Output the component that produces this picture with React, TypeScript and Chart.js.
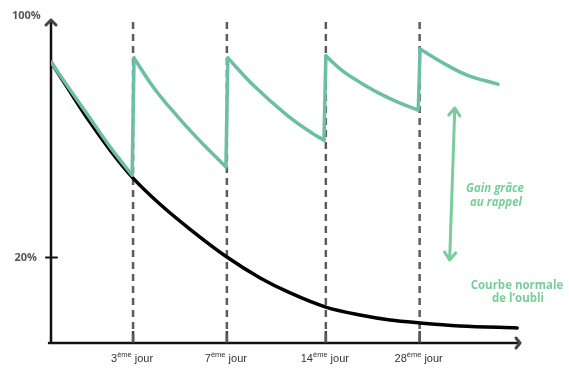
import { useEffect, useRef } from 'react';
import { Chart, registerables } from 'chart.js';

Chart.register(...registerables);

// time axis: 0..100 (schematic), retention axis in %
const reviewDays = ['3', '7', '14', '28'];
const reviewPositions = [17.5, 37.5, 58.6, 78.6];
const yTickValues = [20, 100];
const yTickLabels = ['20%', '100%'];

const normalCurve: number[][] = [
  [0, 86.4], [4.1, 76.2], [8.3, 66.0], [12.6, 56.5], [17.5, 47.0], [23.2, 38.2],
  [29.6, 29.7], [37.5, 20.2], [44.6, 13.1], [51.0, 8.0], [58.6, 3.2], [65.9, 0.5],
  [72.3, -1.2], [78.7, -2.2], [87.2, -3.2], [99.4, -3.9],
];

const recall0: number[][] = [[0, 86.4], [4.1, 76.9], [8.3, 67.4], [12.6, 57.6], [17.3, 48.0]];
const recall3: number[][] = [[17.7, 87.8], [21.8, 77.9], [25.4, 70.8], [29.0, 64.3], [32.8, 57.9], [37.3, 50.8]];
const recall7: number[][] = [[37.7, 87.8], [43.1, 78.6], [50.3, 68.4], [55.9, 62.0], [58.2, 59.9]];
const recall14: number[][] = [[58.6, 88.5], [62.3, 83.2], [65.9, 79.5], [69.5, 76.2], [73.8, 72.9], [78.3, 70.1]];
const recall28: number[][] = [[78.7, 90.8], [83.6, 86.1], [88.7, 82.0], [95.3, 78.9]];

const gainArrow = { xTop: 86.1, yTop: 70.8, xBottom: 85.0, yBottom: 19.2 };

const Y_MIN = -9;
const Y_MAX = 100;

const TEAL = '#6cbfa5';
const GREEN = '#78cd9a';
const DASH = '#5c5c5c';

const toPts = (a: number[][]) => a.map(([x, y]) => ({ x, y }));

export default function App() {
  const ref = useRef<HTMLCanvasElement | null>(null);

  useEffect(() => {
    if (!ref.current) return;
    const segs = [recall0, recall3, recall7, recall14, recall28];
    const datasets: any[] = [];

    segs.forEach((s) => {
      datasets.push({
        data: toPts(s),
        borderColor: TEAL,
        borderWidth: 3.5,
        pointRadius: 0,
        tension: 0.4,
        borderCapStyle: 'round',
        borderJoinStyle: 'round',
        order: 1,
      });
    });
    for (let i = 0; i < segs.length - 1; i++) {
      const a = segs[i][segs[i].length - 1];
      const b = segs[i + 1][0];
      datasets.push({
        data: [{ x: a[0], y: a[1] }, { x: b[0], y: b[1] }],
        borderColor: TEAL,
        borderWidth: 3.5,
        pointRadius: 0,
        tension: 0,
        borderCapStyle: 'round',
        borderJoinStyle: 'round',
        order: 1,
      });
    }
    datasets.push({
      data: toPts(normalCurve),
      borderColor: '#000',
      borderWidth: 3.5,
      pointRadius: 0,
      cubicInterpolationMode: 'monotone',
      borderCapStyle: 'round',
      order: 2,
    });
    reviewPositions.forEach((p) => {
      datasets.push({
        data: [{ x: p, y: Y_MAX }, { x: p, y: Y_MIN }],
        borderColor: DASH,
        borderWidth: 2.5,
        borderDash: [7, 5],
        pointRadius: 0,
        tension: 0,
        order: 3,
      });
    });

    const decor = {
      id: 'decor',
      beforeDatasetsDraw(chart: any) {
        const { ctx, scales } = chart;
        const xs = scales.x;
        const ys = scales.y;
        const x0 = xs.getPixelForValue(0);
        const yAxis = ys.getPixelForValue(Y_MIN);
        const yTop = ys.getPixelForValue(Y_MAX) - 2;
        const xEnd = xs.getPixelForValue(100);
        ctx.save();
        ctx.strokeStyle = '#111';
        ctx.lineWidth = 2.5;
        ctx.lineCap = 'round';
        ctx.beginPath();
        ctx.moveTo(x0, yAxis);
        ctx.lineTo(x0, yTop);
        ctx.moveTo(x0 - 2, yAxis);
        ctx.lineTo(xEnd, yAxis);
        ctx.stroke();
        // arrowheads
        ctx.strokeStyle = '#444';
        ctx.lineWidth = 3;
        ctx.lineJoin = 'round';
        ctx.beginPath();
        ctx.moveTo(x0 - 5, yTop + 5);
        ctx.lineTo(x0, yTop);
        ctx.lineTo(x0 + 5, yTop + 5);
        ctx.moveTo(xEnd - 4, yAxis - 5);
        ctx.lineTo(xEnd, yAxis);
        ctx.lineTo(xEnd - 4, yAxis + 5);
        ctx.stroke();
        // y tick at 20%
        ctx.strokeStyle = '#111';
        ctx.lineWidth = 2;
        const y20 = ys.getPixelForValue(yTickValues[0]);
        ctx.beginPath();
        ctx.moveTo(x0 - 5, y20);
        ctx.lineTo(x0 + 6, y20);
        ctx.stroke();
        // x ticks
        ctx.strokeStyle = '#444';
        ctx.lineWidth = 2.5;
        ctx.lineCap = 'butt';
        reviewPositions.forEach((p) => {
          const px = xs.getPixelForValue(p);
          ctx.beginPath();
          ctx.moveTo(px, yAxis);
          ctx.lineTo(px, yAxis - 12);
          ctx.stroke();
        });
        ctx.restore();
      },
      afterDraw(chart: any) {
        const { ctx, scales } = chart;
        const xs = scales.x;
        const ys = scales.y;
        const x0 = xs.getPixelForValue(0);
        const yAxis = ys.getPixelForValue(Y_MIN);
        ctx.save();
        // y labels
        ctx.fillStyle = '#555';
        ctx.font = 'bold 11px "Open Sans"';
        ctx.textBaseline = 'middle';
        ctx.textAlign = 'right';
        ctx.fillText(yTickLabels[0], x0 - 14, ys.getPixelForValue(yTickValues[0]));
        ctx.textAlign = 'left';
        ctx.fillText(yTickLabels[1], 12, ys.getPixelForValue(yTickValues[1]) - 6);

        // x labels with superscript
        ctx.fillStyle = '#333';
        ctx.textBaseline = 'alphabetic';
        ctx.textAlign = 'left';
        const big = '11px "Liberation Sans"';
        const small = '7.5px "Liberation Sans"';
        reviewDays.forEach((d, i) => {
          const px = xs.getPixelForValue(reviewPositions[i]) - 1;
          ctx.font = big;
          const w1 = ctx.measureText(d).width;
          const w3 = ctx.measureText(' jour').width;
          ctx.font = small;
          const w2 = ctx.measureText('ème').width;
          const total = w1 + w2 + w3;
          let x = px - total / 2;
          const base = yAxis + 19;
          ctx.font = big;
          ctx.fillText(d, x, base);
          x += w1;
          ctx.font = small;
          ctx.fillText('ème', x, base - 5);
          x += w2;
          ctx.font = big;
          ctx.fillText(' jour', x, base);
        });

        // gain arrow
        const ax1 = xs.getPixelForValue(gainArrow.xTop);
        const ay1 = ys.getPixelForValue(gainArrow.yTop);
        const ax2 = xs.getPixelForValue(gainArrow.xBottom);
        const ay2 = ys.getPixelForValue(gainArrow.yBottom);
        ctx.strokeStyle = GREEN;
        ctx.lineWidth = 3;
        ctx.lineCap = 'round';
        ctx.lineJoin = 'round';
        ctx.beginPath();
        ctx.moveTo(ax1, ay1);
        ctx.lineTo(ax2, ay2);
        ctx.moveTo(ax1 - 6, ay1 + 7);
        ctx.lineTo(ax1, ay1);
        ctx.lineTo(ax1 + 5, ay1 + 8);
        ctx.moveTo(ax2 - 5, ay2 - 8);
        ctx.lineTo(ax2, ay2);
        ctx.lineTo(ax2 + 6, ay2 - 7);
        ctx.stroke();

        // annotations
        ctx.fillStyle = GREEN;
        ctx.textAlign = 'center';
        ctx.textBaseline = 'middle';
        ctx.font = 'italic bold 11.5px "Open Sans"';
        ctx.fillText('Gain grâce', 495, 189);
        ctx.fillText('au rappel', 496, 203);
        ctx.font = 'bold 11.5px "Open Sans"';
        ctx.fillText('Courbe normale', 517, 286);
        ctx.fillText('de l’oubli', 518, 299);
        ctx.restore();
      },
    };

    const chart = new Chart(ref.current, {
      type: 'line',
      data: { datasets },
      options: {
        responsive: false,
        animation: false,
        devicePixelRatio: 1,
        layout: { padding: { left: 51, right: 49, top: 22, bottom: 27 } },
        plugins: { legend: { display: false }, tooltip: { enabled: false } },
        scales: {
          x: { type: 'linear', min: 0, max: 100, display: false },
          y: { type: 'linear', min: Y_MIN, max: Y_MAX, display: false },
        },
      },
      plugins: [decor],
    });
    return () => chart.destroy();
  }, []);

  return (
    <div style={{ position: 'absolute', left: 0, top: 0, width: 569, height: 370, background: '#fff' }}>
      <canvas ref={ref} width={569} height={370} style={{ display: 'block' }} />
    </div>
  );
}
